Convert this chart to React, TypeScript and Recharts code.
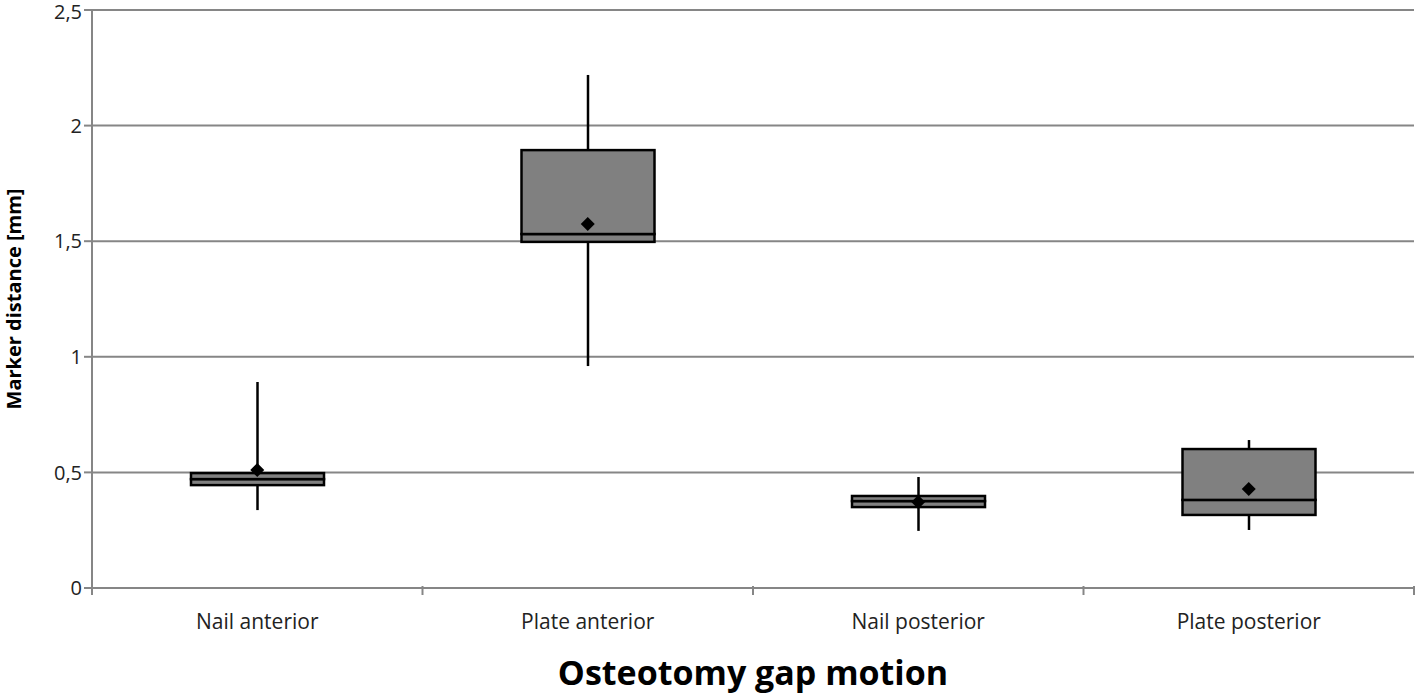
import React from 'react';
import { ComposedChart, Bar, Line, XAxis, YAxis, CartesianGrid, Label } from 'recharts';

const categories = ['Nail anterior', 'Plate anterior', 'Nail posterior', 'Plate posterior'];
const minValues = [0.337, 0.96, 0.247, 0.251];
const q1Values = [0.445, 1.497, 0.35, 0.316];
const medianValues = [0.471, 1.531, 0.376, 0.381];
const q3Values = [0.497, 1.894, 0.398, 0.601];
const maxValues = [0.891, 2.219, 0.48, 0.64];
const meanValues = [0.51, 1.574, 0.372, 0.428];
const yTicks = [0, 0.5, 1, 1.5, 2, 2.5];

const data = categories.map((name, i) => ({
  name,
  base: minValues[i],
  whiskerLow: q1Values[i] - minValues[i],
  boxLow: medianValues[i] - q1Values[i],
  boxHigh: q3Values[i] - medianValues[i],
  whiskerHigh: maxValues[i] - q3Values[i],
  mean: meanValues[i],
}));

const FONT = '"Open Sans", "Noto Sans", sans-serif';
const GRID = '#868686';

const WhiskerShape = (props: any) => {
  const { x, y, width, height } = props;
  const cx = x + width / 2;
  return <line x1={cx} x2={cx} y1={y} y2={y + height} stroke="#000" strokeWidth={2.5} />;
};

const BoxShape = (props: any) => {
  const { x, y, width, height } = props;
  return <rect x={x} y={y} width={width} height={Math.max(height, 0)} fill="#808080" stroke="#000" strokeWidth={2.5} />;
};

const Diamond = (props: any) => {
  const { cx, cy } = props;
  if (cx == null || cy == null) return null;
  const r = 7;
  return <path d={`M${cx},${cy - r}L${cx + r},${cy}L${cx},${cy + r}L${cx - r},${cy}Z`} fill="#000" />;
};

const BAND = (1414 - 92) / 4;

const XTick = (props: any) => {
  const { x, y, payload, index } = props;
  const left = x - BAND / 2;
  const right = x + BAND / 2;
  return (
    <g>
      <line x1={left} x2={left} y1={y - 10} y2={y - 1} stroke={GRID} strokeWidth={2} />
      {index === categories.length - 1 && (
        <line x1={right} x2={right} y1={y - 10} y2={y - 1} stroke={GRID} strokeWidth={2} />
      )}
      <text x={x} y={y + 33} textAnchor="middle" fontFamily={FONT} fontSize={21} fill="#222">
        {payload.value}
      </text>
    </g>
  );
};

const YTick = (props: any) => {
  const { x, y, payload } = props;
  const ty = Math.max(y, 12);
  return (
    <text x={x} y={ty} dy="0.355em" textAnchor="end" fontFamily={FONT} fontSize={20} fill="#222">
      {String(payload.value).replace('.', ',')}
    </text>
  );
};

export default function App() {
  return (
    <div style={{ position: 'absolute', left: 0, top: 0, background: '#fff' }}>
      <ComposedChart
        width={1418}
        height={695}
        data={data}
        margin={{ top: 10, right: 4, left: 0, bottom: 0 }}
        barSize={133}
      >
        <CartesianGrid vertical={false} stroke={GRID} strokeWidth={2} />
        <XAxis
          dataKey="name"
          axisLine={{ stroke: GRID, strokeWidth: 2 }}
          tickLine={false}
          tick={<XTick />}
          height={107}
          interval={0}
        >
          <Label
            value="Osteotomy gap motion"
            position="insideBottom"
            offset={10}
            style={{ fontFamily: FONT, fontSize: 34, fontWeight: 700, fill: '#000' }}
          />
        </XAxis>
        <YAxis
          domain={[0, 2.5]}
          ticks={yTicks}
          width={92}
          axisLine={{ stroke: GRID, strokeWidth: 2 }}
          tickLine={{ stroke: GRID, strokeWidth: 2 }}
          tickSize={8}
          tick={<YTick />}
        >
          <Label
            value="Marker distance [mm]"
            angle={-90}
            position="insideLeft"
            offset={14}
            style={{ fontFamily: FONT, fontSize: 20, fontWeight: 700, fill: '#000', textAnchor: 'middle' }}
          />
        </YAxis>
        <Bar dataKey="base" stackId="b" fill="none" isAnimationActive={false} shape={() => <g />} />
        <Bar dataKey="whiskerLow" stackId="b" isAnimationActive={false} shape={<WhiskerShape />} />
        <Bar dataKey="boxLow" stackId="b" isAnimationActive={false} shape={<BoxShape />} />
        <Bar dataKey="boxHigh" stackId="b" isAnimationActive={false} shape={<BoxShape />} />
        <Bar dataKey="whiskerHigh" stackId="b" isAnimationActive={false} shape={<WhiskerShape />} />
        <Line dataKey="mean" stroke="none" isAnimationActive={false} dot={<Diamond />} activeDot={false} />
      </ComposedChart>
    </div>
  );
}
